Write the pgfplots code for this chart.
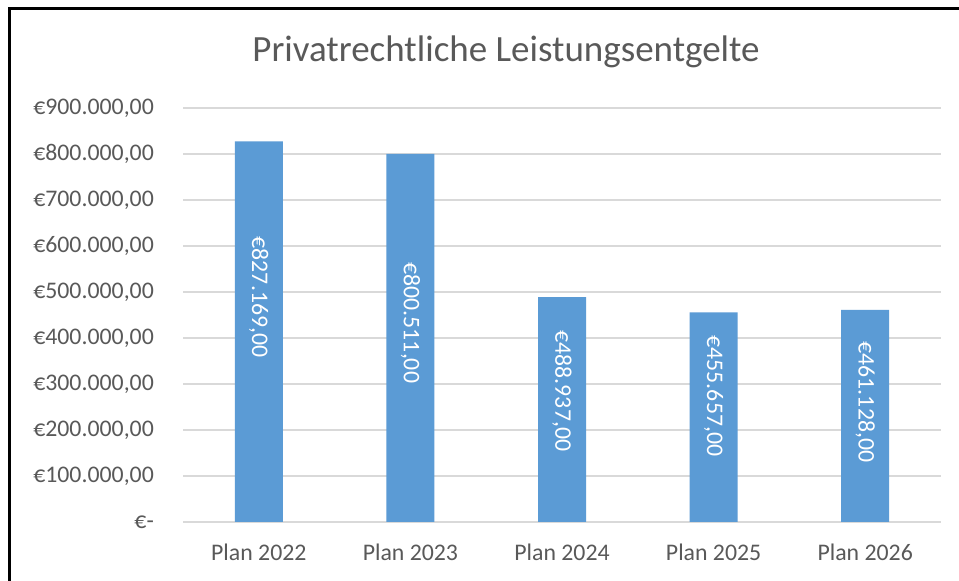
\documentclass[border=0pt]{standalone}
\usepackage{pgfplots}
\pgfplotsset{compat=1.18}
\usepackage{fontspec}
\setmainfont{Carlito}
\definecolor{barblue}{HTML}{5B9BD5}
\definecolor{txtgrey}{HTML}{595959}
\definecolor{gridgrey}{HTML}{D9D9D9}
\begin{document}
\begin{tikzpicture}[x=1bp,y=1bp]
\useasboundingbox (0,0) rectangle (959,581);
\clip (0,0) rectangle (959,581);
\fill[white] (0,0) rectangle (959,581);
\draw[black, line width=3bp] (9.5,-30) -- (9.5,572.5) -- (1010,572.5);
\node[anchor=base, text=txtgrey, inner sep=0pt, font=\fontsize{37bp}{44bp}\selectfont] at (506,519.3) {Privatrechtliche Leistungsentgelte};
\begin{axis}[
  at={(183bp,59bp)}, anchor=south west,
  scale only axis, width=758bp, height=414bp,
  xmin=-0.5, xmax=4.5, ymin=0, ymax=900000,
  ybar, bar width=48bp,
  axis line style={draw=none},
  major tick length=0pt,
  tick style={draw=none},
  ymajorgrids, grid style={gridgrey, line width=1.5bp},
  xtick={0,1,2,3,4},
  xticklabels={Plan 2022, Plan 2023, Plan 2024, Plan 2025, Plan 2026},
  ytick={0,100000,200000,300000,400000,500000,600000,700000,800000,900000},
  yticklabels={{€-\hspace{11bp}},{€100.000,00},{€200.000,00},{€300.000,00},{€400.000,00},{€500.000,00},{€600.000,00},{€700.000,00},{€800.000,00},{€900.000,00}},
  scaled y ticks=false,
  yticklabel style={anchor=east, inner sep=0pt, xshift=-29bp, text=txtgrey, font=\fontsize{23.8bp}{28bp}\selectfont},
  xticklabel style={anchor=north, inner sep=0pt, yshift=-22bp, text=txtgrey, font=\fontsize{23.8bp}{28bp}\selectfont},
]
\addplot[fill=barblue, draw=none] coordinates {(0,827169) (1,800511) (2,488937) (3,455657) (4,461128)};
\node[rotate=-90, text=white, inner sep=0pt, font=\fontsize{23.8bp}{28bp}\selectfont] at (axis cs:0,489000) {€827.169,00};
\node[rotate=-90, text=white, inner sep=0pt, font=\fontsize{23.8bp}{28bp}\selectfont] at (axis cs:1,433000) {€800.511,00};
\node[rotate=-90, text=white, inner sep=0pt, font=\fontsize{23.8bp}{28bp}\selectfont] at (axis cs:2,285000) {€488.937,00};
\node[rotate=-90, text=white, inner sep=0pt, font=\fontsize{23.8bp}{28bp}\selectfont] at (axis cs:3,274000) {€455.657,00};
\node[rotate=-90, text=white, inner sep=0pt, font=\fontsize{23.8bp}{28bp}\selectfont] at (axis cs:4,261000) {€461.128,00};
\end{axis}
\end{tikzpicture}
\end{document}
